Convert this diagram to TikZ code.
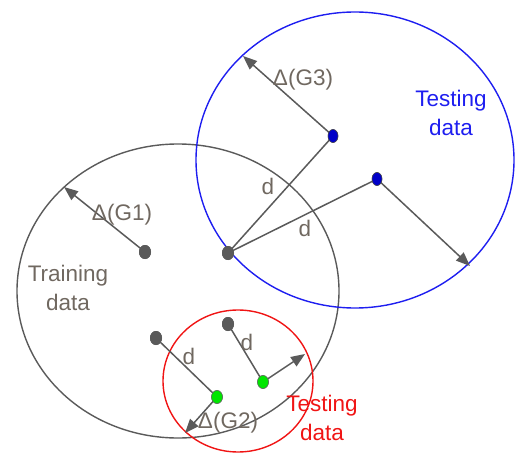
\documentclass[tikz,border=0pt]{standalone}
\usepackage{fontspec}
\setmainfont{Liberation Sans}
\usetikzlibrary{arrows.meta,shapes.geometric}
\definecolor{ln}{RGB}{90,90,90}
\definecolor{txt}{RGB}{112,104,96}
\definecolor{bl}{RGB}{30,30,240}
\definecolor{rd}{RGB}{240,20,20}
\begin{document}
\begin{tikzpicture}[x=1pt,y=-1pt,
  dot/.style={ellipse,inner sep=0pt,minimum width=12pt,minimum height=14pt,fill=ln},
  bdot/.style={ellipse,inner sep=0pt,minimum width=10pt,minimum height=13pt,fill={rgb,255:red,0;green,0;blue,200},draw=black!70,line width=0.5pt},
  gdot/.style={ellipse,inner sep=0pt,minimum width=11pt,minimum height=13pt,fill={rgb,255:red,0;green,230;blue,0},draw=black!60,line width=0.5pt},
  conn/.style={draw=ln,line width=1.5pt},
  arr/.style={conn,-{Triangle[length=14pt,width=11pt]}},
  lbl/.style={text=txt,font=\fontsize{22.5}{29}\selectfont,inner sep=0pt,align=center},
  ring/.style={line width=1.4pt}]
\useasboundingbox (0,0) rectangle (516,454);
% circles
\draw[ring,draw=ln] (178,291) ellipse [x radius=161, y radius=147];
\draw[ring,draw=bl] (355,160) ellipse [x radius=159, y radius=148];
\draw[ring,draw=rd] (238,381) ellipse [x radius=75, y radius=71];
% tips
\coordinate (t3) at (243,56);
\coordinate (tb) at (470,266);
\coordinate (t1) at (64,187);
\coordinate (tg2) at (305,354);
\coordinate (tg1) at (185,433);
% dots
\node[bdot] (b1) at (333,136) {};
\node[bdot] (b2) at (377,179) {};
\node[dot] (T) at (228,253) {};
\node[dot] (g1) at (145,252) {};
\node[dot] (A) at (156,338) {};
\node[dot] (B) at (228,324) {};
\node[gdot] (e1) at (217,397) {};
\node[gdot] (e2) at (263,382) {};
% connectors
\draw[arr] (b1.center) -- (t3);
\draw[arr] (b2.center) -- (tb);
\draw[conn] (T.center) -- (b1.center);
\draw[conn] (T.center) -- (b2.center);
\draw[arr] (g1.center) -- (t1);
\draw[conn] (A.center) -- (e1.center);
\draw[conn] (B.center) -- (e2.center);
\draw[arr] (e2.center) -- (tg2);
\draw[arr] (e1.center) -- (tg1);
% redraw dots on top
\node[bdot] at (b1) {};
\node[bdot] at (b2) {};
\node[dot] at (T) {};
\node[dot] at (g1) {};
\node[dot] at (A) {};
\node[dot] at (B) {};
\node[gdot] at (e1) {};
\node[gdot] at (e2) {};
% labels
\node[lbl] (l3) at (303,80) {Δ(G3)};
\node[lbl,text=bl] (lt1) at (451,113) {Testing\\data};
\node[lbl] (d1) at (268,186) {d};
\node[lbl] (d2) at (305,228) {d};
\node[lbl] (l1) at (122,215) {Δ(G1)};
\node[lbl] (tr) at (68,288) {Training\\data};
\node[lbl] (d3) at (189,356) {d};
\node[lbl] (d4) at (247,342) {d};
\node[lbl] (l2) at (228,423) {Δ(G2)};
\node[lbl,text=rd] (lt2) at (322,418) {Testing\\data};
\end{tikzpicture}
\end{document}
